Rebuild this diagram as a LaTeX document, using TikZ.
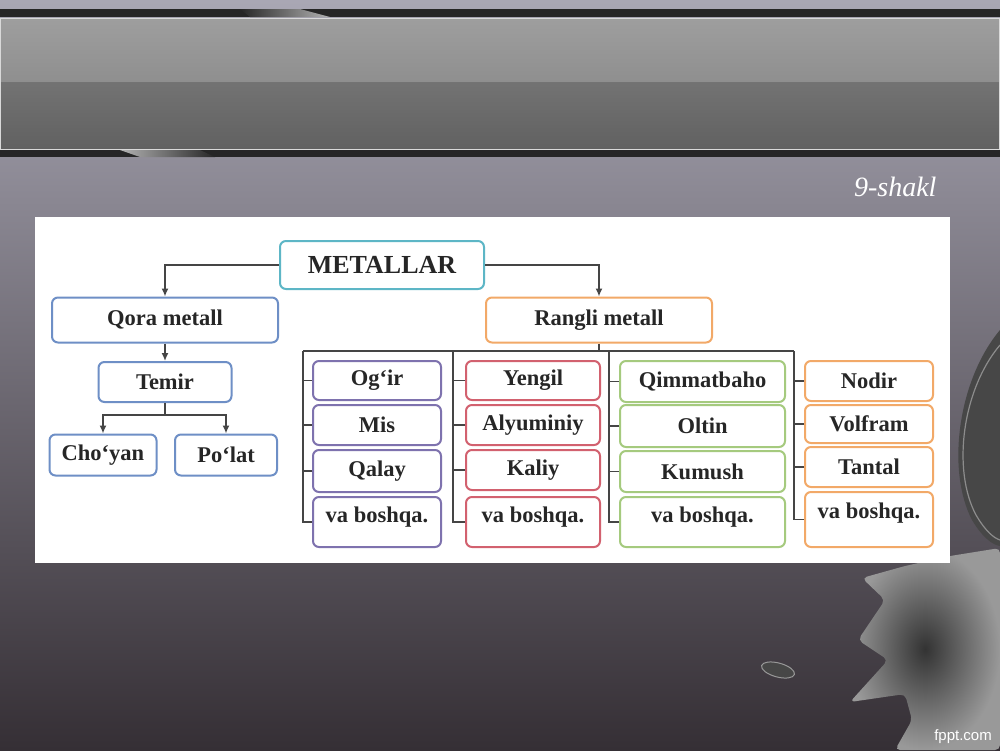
\documentclass[tikz,border=0pt]{standalone}
\usepackage{fontspec}
\setmainfont{Liberation Serif}
\setsansfont{Liberation Sans}
\usetikzlibrary{positioning, arrows.meta}
\definecolor{bgtop}{HTML}{A9A7B4}
\definecolor{bgmid}{HTML}{7C7886}
\definecolor{bgbot}{HTML}{352F35}
\definecolor{linegray}{HTML}{454545}
\definecolor{cteal}{HTML}{5DB6C6}
\definecolor{cblue}{HTML}{6E8FC6}
\definecolor{corange}{HTML}{F2A968}
\definecolor{cpurple}{HTML}{7E72AE}
\definecolor{cred}{HTML}{D2616F}
\definecolor{cgreen}{HTML}{A5CA7E}

\begin{document}
\begin{tikzpicture}[x=1pt, y=-1pt,
    box/.style={draw, rounded corners=6pt, line width=2pt, fill=white, inner sep=0pt,
        text=black!85, font=\fontsize{22.5}{26}\selectfont\bfseries},
    link/.style={draw=linegray, line width=1.5pt},
    arr/.style={link, -{Latex[length=8pt, width=7pt]}}]
    \useasboundingbox (0, 0) rectangle (1000, 750);
    \shade[top color=bgtop, middle color=bgmid, bottom color=bgbot] (0, 0) rectangle (1000, 750);
    \fill[black!85] (0, 9) rectangle (1000, 17);
    \fill[black!85] (0, 150) rectangle (1000, 157);
    \shade[left color=black!85, right color=black!30] (240, 9) -- (300, 9) -- (330, 17) -- (250, 17) -- cycle;
    \shade[left color=black!30, right color=black!85] (120, 150) -- (200, 150) -- (215, 157) -- (140, 157) -- cycle;
    \shade[top color=black!38, bottom color=black!44] (0, 18) rectangle (1000, 82);
    \shade[top color=black!55, bottom color=black!62] (0, 82) rectangle (1000, 149);
    \draw[black!15, line width=0.8pt] (0.5, 18) rectangle (999.5, 149);
    % bottom right ink
    \fill[black!72] (1000, 330) .. controls (958, 380) and (946, 470) .. (972, 520)
        .. controls (984, 540) and (994, 545) .. (1000, 546) -- cycle;
    \draw[black!45, line width=1.2pt] (1000, 345) .. controls (962, 390) and (952, 470) .. (976, 515)
        .. controls (986, 532) and (994, 538) .. (1000, 540);
    \shade[inner color=black!80, outer color=black!40, rounded corners=5pt] (1000, 548) -- (950, 556)
        -- (905, 566) -- (862, 578) -- (885, 600) -- (858, 640) -- (888, 660) -- (850, 702)
        -- (905, 694) -- (912, 720) -- (895, 750) -- (1000, 750) -- cycle;
    \fill[black!72, rotate around={-15:(778, 670)}] (778, 670) ellipse (17 and 7);
    \draw[black!40, line width=1pt, rotate around={-15:(778, 670)}] (778, 670) ellipse (17 and 7);
    \node[anchor=east, text=white, font=\fontsize{28}{32}\selectfont\itshape] (fig) at (940, 187) {9-shakl};
    \node[text=white, font=\sffamily\fontsize{15}{18}\selectfont] (site) at (963, 737) {fppt.com};
    % white panel
    \fill[white] (35, 217) rectangle (950, 563);

    \node[box, draw=cteal, minimum width=204, minimum height=48, font=\fontsize{26}{30}\selectfont\bfseries] (metal) at (382, 265) {METALLAR};
    \node[box, draw=cblue, minimum width=226, minimum height=45] (qora) at (165, 320) {Qora metall};
    \node[box, draw=corange, minimum width=226, minimum height=45] (rangli) at (599, 320) {Rangli metall};
    \node[box, draw=cblue, minimum width=133, minimum height=40] (temir) at (165, 382) {Temir};
    \node[box, draw=cblue, minimum width=107, minimum height=41] (choyan) at (103, 455) {Cho‘yan};
    \node[box, draw=cblue, minimum width=102, minimum height=41] (polat) at (226, 455) {Po‘lat};

    \node[box, draw=cpurple, minimum width=128, minimum height=39] (b11) at (377, 380.5) {Og‘ir};
    \node[box, draw=cpurple, minimum width=128, minimum height=40] (b12) at (377, 425) {Mis};
    \node[box, draw=cpurple, minimum width=128, minimum height=42] (b13) at (377, 471) {Qalay};
    \node[box, draw=cpurple, minimum width=128, minimum height=50, text depth=14pt] (b14) at (377, 522) {va boshqa.};

    \node[box, draw=cred, minimum width=134, minimum height=39] (b21) at (533, 380.5) {Yengil};
    \node[box, draw=cred, minimum width=134, minimum height=40] (b22) at (533, 425) {Alyuminiy};
    \node[box, draw=cred, minimum width=134, minimum height=40] (b23) at (533, 470) {Kaliy};
    \node[box, draw=cred, minimum width=134, minimum height=50, text depth=14pt] (b24) at (533, 522) {va boshqa.};

    \node[box, draw=cgreen, minimum width=165, minimum height=41] (b31) at (702.5, 381.5) {Qimmatbaho};
    \node[box, draw=cgreen, minimum width=165, minimum height=42] (b32) at (702.5, 426) {Oltin};
    \node[box, draw=cgreen, minimum width=165, minimum height=41] (b33) at (702.5, 471.5) {Kumush};
    \node[box, draw=cgreen, minimum width=165, minimum height=50, text depth=14pt] (b34) at (702.5, 522) {va boshqa.};

    \node[box, draw=corange, minimum width=128, minimum height=40] (b41) at (869, 381) {Nodir};
    \node[box, draw=corange, minimum width=128, minimum height=38] (b42) at (869, 424) {Volfram};
    \node[box, draw=corange, minimum width=128, minimum height=40] (b43) at (869, 467) {Tantal};
    \node[box, draw=corange, minimum width=128, minimum height=55, text depth=18pt] (b44) at (869, 519.5) {va boshqa.};

    \coordinate (fork) at (165, 415);
    \coordinate (c1) at (303, 351);
    \coordinate (c2) at (453, 351);
    \coordinate (c3) at (609, 351);
    \coordinate (c4) at (794, 351);

    \draw[arr] (metal.west) -| (qora.north);
    \draw[arr] (metal.east) -| (rangli.north);
    \draw[arr] (qora.south) -- (temir.north);
    \draw[link] (temir.south) -- (fork);
    \draw[arr] (fork) -| (choyan.north);
    \draw[arr] (fork) -| (polat.north);
    \draw[link] (rangli.south) -- (rangli.south |- c1);
    \draw[link] (c1) -- (c4);
    \foreach \c in {1,...,4} {
        \draw[link] (c\c) |- (b\c4.west);
        \foreach \r in {1,2,3}
            \draw[link] (b\c\r.west) -- (b\c\r.west -| c\c);
    }
\end{tikzpicture}
\end{document}
